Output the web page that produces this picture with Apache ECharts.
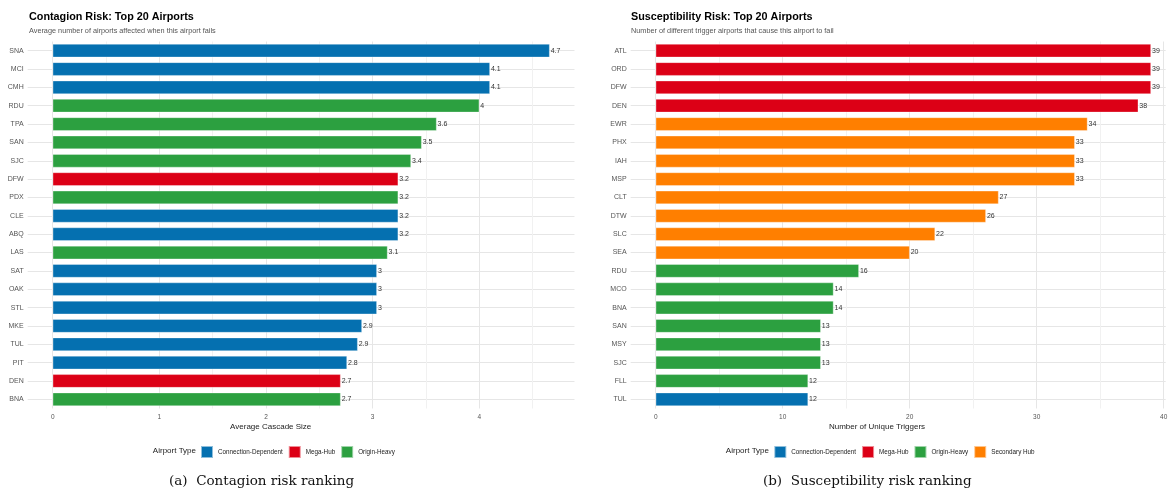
<!DOCTYPE html>
<html>
<head>
<meta charset="utf-8">
<script src="https://cdn.jsdelivr.net/npm/echarts@6/dist/echarts.min.js"></script>
<style>
html,body{margin:0;padding:0;background:#fff;}
#c{width:1173px;height:491px;}
</style>
</head>
<body>
<div id="c"></div>
<script>
// ---- data ----
const contagionAirports = ['SNA','MCI','CMH','RDU','TPA','SAN','SJC','DFW','PDX','CLE','ABQ','LAS','SAT','OAK','STL','MKE','TUL','PIT','DEN','BNA'];
const contagionValues = [4.66,4.10,4.10,4.00,3.60,3.46,3.36,3.24,3.24,3.24,3.24,3.14,3.04,3.04,3.04,2.90,2.86,2.76,2.70,2.70];
const contagionTypes = ['Connection-Dependent','Connection-Dependent','Connection-Dependent','Origin-Heavy','Origin-Heavy','Origin-Heavy','Origin-Heavy','Mega-Hub','Origin-Heavy','Connection-Dependent','Connection-Dependent','Origin-Heavy','Connection-Dependent','Connection-Dependent','Connection-Dependent','Connection-Dependent','Connection-Dependent','Connection-Dependent','Mega-Hub','Origin-Heavy'];

const suscAirports = ['ATL','ORD','DFW','DEN','EWR','PHX','IAH','MSP','CLT','DTW','SLC','SEA','RDU','MCO','BNA','SAN','MSY','SJC','FLL','TUL'];
const suscValues = [39,39,39,38,34,33,33,33,27,26,22,20,16,14,14,13,13,13,12,12];
const suscTypes = ['Mega-Hub','Mega-Hub','Mega-Hub','Mega-Hub','Secondary Hub','Secondary Hub','Secondary Hub','Secondary Hub','Secondary Hub','Secondary Hub','Secondary Hub','Secondary Hub','Origin-Heavy','Origin-Heavy','Origin-Heavy','Origin-Heavy','Origin-Heavy','Origin-Heavy','Origin-Heavy','Connection-Dependent'];

const typeNames = ['Connection-Dependent','Mega-Hub','Origin-Heavy','Secondary Hub'];
const xTicksLeft = [0,1,2,3,4];
const xTicksRight = [0,10,20,30,40];

// ---- styles ----
const typeColors = {'Connection-Dependent':'#0570B0','Mega-Hub':'#DC0016','Origin-Heavy':'#2CA040','Secondary Hub':'#FF7F00'};
const FONT = 'Liberation Sans, Arial, Helvetica, sans-serif';
const GRID_MAJOR = '#e6e6e6';
const GRID_MINOR = '#f1f1f1';

function fmtLeft(v){ return String(Math.round(v*10)/10); }
function fmtRight(v){ return String(Math.round(v)); }

function buildSeries(values, types, idx, fmt){
  const present = typeNames.filter(t => types.indexOf(t) >= 0);
  return present.map(t => ({
    type:'bar', name:t, xAxisIndex:idx, yAxisIndex:idx, stack:'s'+idx,
    barWidth:'73%',
    itemStyle:{color:typeColors[t], borderColor:'rgba(255,255,255,0.55)', borderWidth:0.6},
    label:{show:true, position:'right', distance:1, fontSize:7, fontFamily:FONT, color:'#333',
           formatter:p => fmt(p.value)},
    emphasis:{disabled:true},
    data: values.map((v,i) => types[i] === t ? v : null)
  }));
}

function xAxis(gi, ticks, maxFactor){
  return {
    type:'value', gridIndex:gi, min:0, max:v => v.max*maxFactor, interval:(ticks[1]-ticks[0])/2,
    axisLine:{show:false}, axisTick:{show:false},
    axisLabel:{fontSize:6.5, fontFamily:FONT, color:'#555', margin:5, showMaxLabel:false,
               formatter:v => (ticks.indexOf(v) >= 0 ? String(v) : '')},
    splitLine:{show:true, showMaxLine:false, lineStyle:{color:[GRID_MAJOR, GRID_MINOR], width:1}}
  };
}
function yAxis(gi, cats){
  return {
    type:'category', gridIndex:gi, data:cats, inverse:true,
    axisLine:{show:false},
    axisTick:{show:true, alignWithLabel:true, length:25, lineStyle:{color:GRID_MAJOR, width:1}},
    axisLabel:{fontSize:7, fontFamily:FONT, color:'#555', margin:29},
    splitLine:{show:true, alignWithLabel:true, lineStyle:{color:GRID_MAJOR, width:1}}
  };
}

function txt(x, y, text, size, opts){
  opts = opts || {};
  return {type:'text', x:x, y:y, silent:true, style:{
    text:text, fontSize:size, fontFamily:opts.family || FONT, fontWeight:opts.weight || 'normal',
    fill:opts.color || '#000', align:opts.align || 'left', verticalAlign:'middle'}};
}

const chart = echarts.init(document.getElementById('c'), null, {renderer:'canvas'});
chart.setOption({
  animation:false,
  backgroundColor:'#fff',
  grid:[
    {left:52.7, top:41.5, width:521.8, height:367},
    {left:655.7, top:41.5, width:510, height:367}
  ],
  xAxis:[xAxis(0, xTicksLeft, 1.05), xAxis(1, xTicksRight, 1.0297)],
  yAxis:[yAxis(0, contagionAirports), yAxis(1, suscAirports)],
  legend:[
    {left:200, top:445, padding:0, itemWidth:12, itemHeight:12, itemGap:5, icon:'rect', selectedMode:false,
     data:typeNames.filter(t => contagionTypes.indexOf(t) >= 0),
     textStyle:{fontSize:6.3, fontFamily:FONT, color:'#222'}},
    {left:773.3, top:445, padding:0, itemWidth:12, itemHeight:12, itemGap:5, icon:'rect', selectedMode:false,
     data:typeNames.filter(t => suscTypes.indexOf(t) >= 0),
     textStyle:{fontSize:6.3, fontFamily:FONT, color:'#222'}}
  ],
  series:[].concat(
    buildSeries(contagionValues, contagionTypes, 0, fmtLeft),
    buildSeries(suscValues, suscTypes, 1, fmtRight)
  ),
  graphic:[
    txt(29, 16.8, 'Contagion Risk: Top 20 Airports', 10.8, {weight:'bold'}),
    txt(29, 30.5, 'Average number of airports affected when this airport fails', 7.3, {color:'#555'}),
    txt(631, 16.8, 'Susceptibility Risk: Top 20 Airports', 10.8, {weight:'bold'}),
    txt(631, 30.5, 'Number of different trigger airports that cause this airport to fail', 7.3, {color:'#555'}),
    txt(270.7, 427, 'Average Cascade Size', 8, {align:'center', color:'#222'}),
    txt(877, 427, 'Number of Unique Triggers', 8, {align:'center', color:'#222'}),
    txt(196, 451, 'Airport Type', 8, {align:'right', color:'#222'}),
    txt(769, 451, 'Airport Type', 8, {align:'right', color:'#222'}),
    txt(261.5, 481, '(a)  Contagion risk ranking', 13.5, {align:'center', family:'DejaVu Serif, serif', color:'#111'}),
    txt(867.3, 481, '(b)  Susceptibility risk ranking', 13.5, {align:'center', family:'DejaVu Serif, serif', color:'#111'})
  ]
});
</script>
</body>
</html>
